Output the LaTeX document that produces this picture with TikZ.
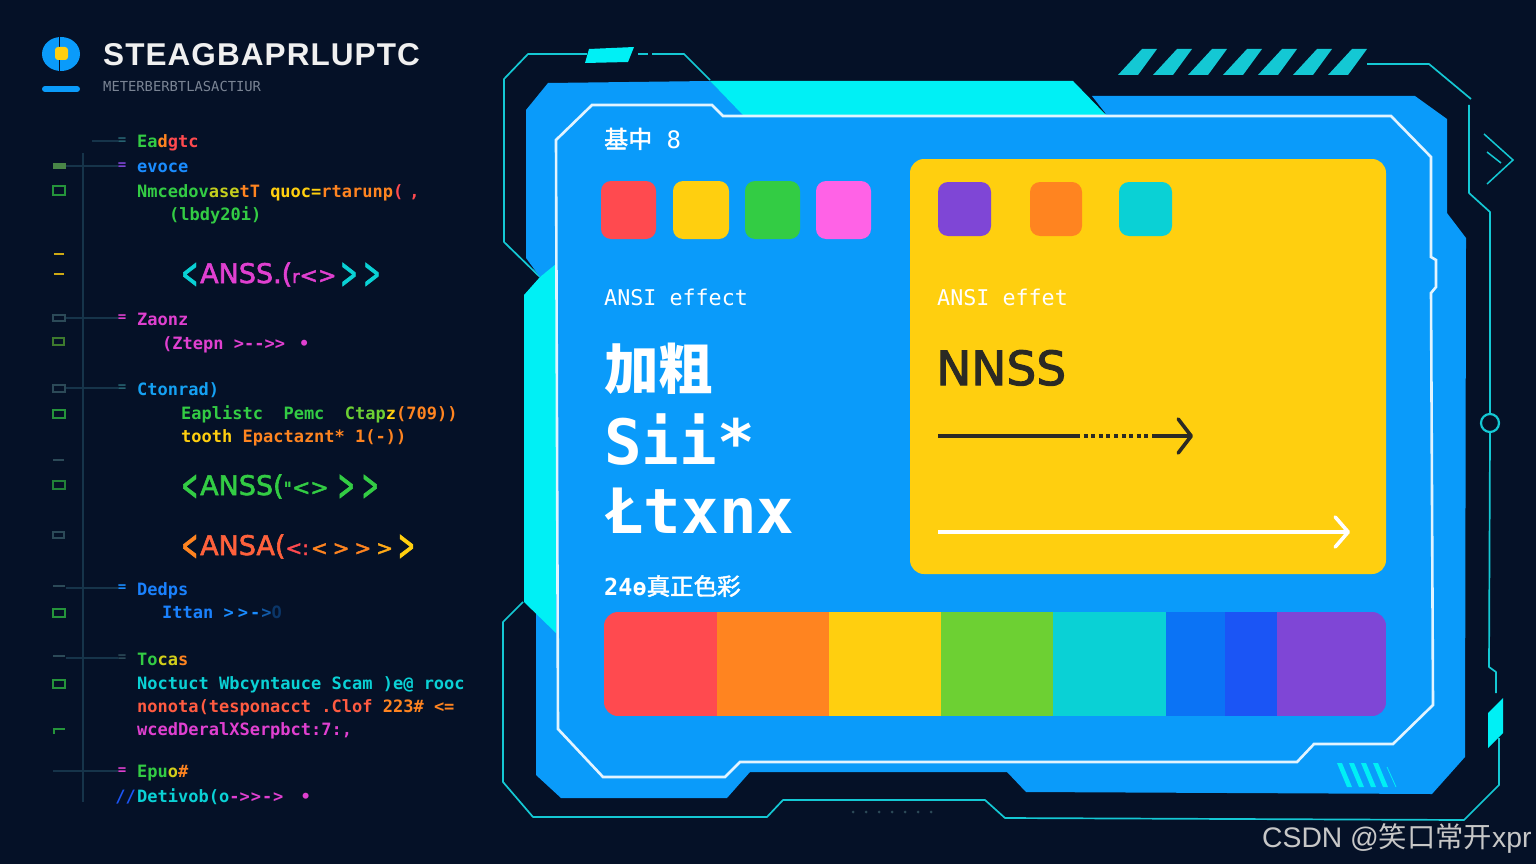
\documentclass[tikz,border=0pt]{standalone}
\usepackage{fontspec}
\usepackage{graphicx}
\usepackage{xcolor}
\usetikzlibrary{arrows.meta}
\setmainfont{DejaVu Sans}
\newfontfamily\ansimono{DejaVu Sans Mono}
\newfontfamily\ansimid{DejaVu Sans}[FakeBold=2.2]
\newfontfamily\cjkfont{Noto Sans CJK SC}
\newfontfamily\cjkmid{Noto Sans CJK SC}[FakeBold=2]
\newfontfamily\wmfont{Liberation Sans}
\newfontfamily\titlefont{Liberation Sans Bold}[LetterSpace=3.4]
\newcommand{\fsz}[1]{\fontsize{#1}{#1}\selectfont}
\newcommand{\tallang}[1]{\raisebox{-5pt}{\scalebox{.75}[1.6]{#1}}}
\definecolor{ansibg}{HTML}{051127}
\definecolor{ansiblue}{HTML}{0A9BFA}
\definecolor{ansicyan}{HTML}{00F0F5}
\definecolor{ansiteal}{HTML}{14C8D4}
\definecolor{ansiframe}{HTML}{E2F4FF}
\definecolor{ansired}{HTML}{FF4A4F}
\definecolor{ansiorange}{HTML}{FF8420}
\definecolor{ansiyellow}{HTML}{FFCF0F}
\definecolor{ansigreen}{HTML}{33CC44}
\definecolor{ansilime}{HTML}{6DD033}
\definecolor{ansipink}{HTML}{FF62E6}
\definecolor{ansimagenta}{HTML}{E040D0}
\definecolor{ansipurple}{HTML}{7F46D6}
\definecolor{ansiturq}{HTML}{0AD1D5}
\definecolor{ansiazure}{HTML}{0B73F5}
\definecolor{ansicobalt}{HTML}{1B55F5}
\definecolor{ansicode}{HTML}{1A8CFF}
\definecolor{ansiink}{HTML}{2B2A24}
\definecolor{ansigrey}{HTML}{7A8494}
\definecolor{ansirule}{HTML}{16344A}
\definecolor{ansimark}{HTML}{2C4A58}
\tikzset{
    codetext/.style={anchor=base west, inner sep=0pt, font=\ansimono\bfseries\fsz{17}},
    bigcode/.style={anchor=base west, inner sep=0pt, font=\ansimid\fsz{27}},
    paneltext/.style={anchor=base west, inner sep=0pt, text=white},
    eqmark/.style={inner sep=0pt, font=\ansimono\bfseries\fsz{14}},
    tick/.style={draw=ansirule, line width=1.2pt},
    guttermark/.style={line width=1.1pt},
    swatch/.style={rounded corners=10pt},
    hud/.style={draw=ansiteal, line width=1.7pt, line join=bevel},
}
\begin{document}
\begin{tikzpicture}[x=1pt,y=-1pt]
    \useasboundingbox (0,0) rectangle (1536,864);
    \fill[ansibg] (0,0) rectangle (1536,864);

    \fill[ansiblue] (42,54) arc[start angle=180, end angle=-180, x radius=19, y radius=17];
    \draw[ansibg, line width=1pt] (59,37) -- (59,71);
    \fill[ansiyellow, rounded corners=3pt] (55,47) rectangle (68,60);
    \draw[ansiblue, line width=6pt, line cap=round] (45,89) -- (77,89);
    \node[anchor=base west, inner sep=0pt, text=white!94!black, font=\titlefont\fsz{31.5}] (apptitle) at (103,66) {STEAGBAPRLUPTC};
    \node[anchor=base west, inner sep=0pt, text=ansigrey, font=\ansimono\fsz{13.8}] (appsub) at (103,92) {METERBERBTLASACTIUR};

    \draw[ansirule, line width=1.4pt] (83,153) -- (83,802);

    \coordinate (taila) at (92,141);
    \coordinate (tailb) at (66,166);
    \coordinate (tailc) at (66,318);
    \coordinate (taild) at (66,388);
    \coordinate (taile) at (66,588);
    \coordinate (tailf) at (66,658);
    \coordinate (tailg) at (53,771);
    \node[eqmark, text=ansimark!80!ansiteal] (eqa) at (122,141) {=};
    \node[eqmark, text=ansipurple] (eqb) at (122,166) {=};
    \node[eqmark, text=ansimagenta] (eqc) at (122,318) {=};
    \node[eqmark, text=ansimark!80!ansiteal] (eqd) at (122,388) {=};
    \node[eqmark, text=ansicode] (eqe) at (122,588) {=};
    \node[eqmark, text=ansimark] (eqf) at (122,658) {=};
    \node[eqmark, text=ansimagenta] (eqg) at (122,771) {=};
    \draw[tick] (taila) -- (eqa);
    \draw[tick] (tailb) -- (eqb);
    \draw[tick] (tailc) -- (eqc);
    \draw[tick] (taild) -- (eqd);
    \draw[tick] (taile) -- (eqe);
    \draw[tick] (tailf) -- (eqf);
    \draw[tick] (tailg) -- (eqg);

    \fill[ansilime!45!ansimark] (53,163) rectangle (66,169);
    \draw[guttermark, ansigreen!70!ansibg] (53,186) rectangle (65,195);
    \draw[guttermark, ansiyellow!80!ansibg] (54,254) -- (64,254);
    \draw[guttermark, ansiyellow!80!ansibg] (54,274) -- (64,274);
    \draw[guttermark, ansimark] (53,315) rectangle (65,321);
    \draw[guttermark, ansilime!55!ansibg] (53,338) rectangle (64,345);
    \draw[guttermark, ansimark] (53,385) rectangle (65,392);
    \draw[guttermark, ansigreen!70!ansibg] (53,410) rectangle (65,418);
    \draw[guttermark, ansimark] (53,460) -- (64,460);
    \draw[guttermark, ansigreen!60!ansibg] (53,481) rectangle (65,489);
    \draw[guttermark, ansimark] (53,532) rectangle (64,538);
    \draw[guttermark, ansimark] (53,586) -- (65,586);
    \draw[guttermark, ansigreen!70!ansibg] (53,609) rectangle (65,617);
    \draw[guttermark, ansimark] (53,656) -- (65,656);
    \draw[guttermark, ansigreen!70!ansibg] (53,680) rectangle (65,688);
    \draw[guttermark, ansigreen!70!ansibg] (54,734) -- (54,729) -- (65,729);

    \node[codetext] (linea) at (137,147) {\textcolor{ansigreen}{Ea}\textcolor{ansiorange}{d}\textcolor{ansired}{gtc}};
    \node[codetext] (lineb) at (137,172) {\textcolor{ansicode}{evoce}};
    \node[codetext] (linec) at (137,197) {\textcolor{ansigreen}{Nmcedov}\textcolor{ansiyellow!60!ansilime}{ase}\textcolor{ansiorange}{tT} \textcolor{ansiyellow}{quoc=}\textcolor{ansiorange}{rtarunp}\textcolor{ansired}{(\kern6pt,}};
    \node[codetext] (lined) at (169,220) {\textcolor{ansigreen}{(lbdy20i)}};
    \node[bigcode] (linee) at (181,283) {\textcolor{ansiturq}{\tallang{<}}\kern2pt\textcolor{ansimagenta}{ANSS.(}\textcolor{ansimagenta}{\fsz{18}r}\textcolor{ansimagenta}{\fsz{22}<>}\kern4pt\textcolor{ansiturq}{\tallang{>}\kern6pt\tallang{>}}};
    \node[codetext, text=ansimagenta] (linef) at (137,325) {Zaonz};
    \node[codetext, text=ansimagenta] (lineg) at (162,349) {(Ztepn >-->>\ \kern4pt•};
    \node[codetext, text=ansicode!70!ansiturq] (lineh) at (137,395) {Ctonrad)};
    \node[codetext] (linei) at (181,419) {\textcolor{ansigreen}{Eaplistc\ \ Pemc}\ \ \textcolor{ansilime}{Ctap}\textcolor{ansiyellow}{z}\textcolor{ansiorange}{(709))}};
    \node[codetext] (linej) at (181,442) {\textcolor{ansiyellow}{tooth} \textcolor{ansiorange}{Epactaznt*\ 1(-))}};
    \node[bigcode, text=ansigreen] (linek) at (181,495) {\tallang{<}\kern2ptANSS(\fsz{18}"\fsz{22}<>\kern9pt\fsz{27}\tallang{>}\kern7pt\tallang{>}};
    \node[bigcode] (linel) at (181,555) {\textcolor{ansiorange}{\tallang{<}}\kern2pt\textcolor{ansired!60!ansiorange}{ANSA(}\textcolor{ansired}{\fsz{20}<:}\textcolor{ansiorange}{\fsz{20}\kern2pt<\kern5pt>\kern5pt>}\textcolor{ansiorange!50!ansiyellow}{\fsz{20}\kern5pt>}\kern5pt\textcolor{ansiyellow}{\fsz{27}\tallang{>}}};
    \node[codetext, text=ansicode!80!ansicobalt] (linem) at (137,595) {Dedps};
    \node[codetext] (linen) at (162,618) {\textcolor{ansicode!80!ansicobalt}{Ittan} \textcolor{ansicode}{>\kern4pt>\kern2pt-\kern1pt}\textcolor{ansicode!60!ansibg}{>}\textcolor{ansicode!30!ansibg}{O}};
    \node[codetext] (lineo) at (137,665) {\textcolor{ansigreen}{To}\textcolor{ansiyellow!70!ansilime}{ca}\textcolor{ansiorange}{s}};
    \node[codetext, text=ansiturq] (linep) at (137,689) {Noctuct Wbcyntauce Scam )e@ rooc};
    \node[codetext] (lineq) at (137,712) {\textcolor{ansired!70!ansiorange}{nonota(tesponacct .Clof} \textcolor{ansiorange}{223\#} \textcolor{ansiorange}{<=}};
    \node[codetext, text=ansimagenta] (liner) at (137,735) {wcedDeralXSerpbct:7:,};
    \node[codetext] (lines) at (137,777) {\textcolor{ansigreen}{Epu}\textcolor{ansiyellow!70!ansilime}{o}\textcolor{ansiorange}{\#}};
    \node[codetext, text=ansicobalt, anchor=base east] (linetag) at (136,802) {//};
    \node[codetext] (linet) at (137,802) {\textcolor{ansiturq}{Detivob(o}\textcolor{ansimagenta}{->\kern1pt>\kern1pt-\kern1pt>}\ \kern7pt\textcolor{ansimagenta}{•}};

    \draw[hud] (710,80) -- (684,54) -- (652,54);
    \draw[hud] (638,54) -- (648,54);
    \draw[hud] (587,54) -- (528,54) -- (504,79) -- (504,242) -- (540,277);
    \fill[ansicyan] (585,63) -- (589,49) -- (634,47) -- (628,62) -- cycle;
    \draw[hud] (1367,64) -- (1429,64) -- (1471,99);
    \draw[hud] (1469,105) -- (1469,193) -- (1490,212) -- (1490,414);
    \draw[hud] (1490,432) -- (1489,667) -- (1496,672) -- (1496,693);
    \draw[hud] (1499,738) -- (1499,785) -- (1464,820) -- (1005,818) -- (985,800) -- (783,800) -- (767,817) -- (533,817) -- (503,782) -- (503,622) -- (523,602);
    \fill[ansicyan] (1488,713) -- (1503,698) -- (1503,733) -- (1488,748) -- cycle;
    \node[circle, draw=ansiteal, line width=2.2pt, minimum size=18pt, inner sep=0pt] (ringa) at (1490,423) {};
    \draw[ansiteal, line width=1.5pt] (1484,134) -- (1513,160) -- (1487,184);
    \draw[ansiteal, line width=1.5pt] (1487,152) -- (1501,163);
    \fill[ansiteal] (1118,75) -- (1138,75) -- (1157,49) -- (1142,49) -- cycle;
    \fill[ansiteal] (1153,75) -- (1173,75) -- (1192,49) -- (1177,49) -- cycle;
    \fill[ansiteal] (1188,75) -- (1208,75) -- (1227,49) -- (1212,49) -- cycle;
    \fill[ansiteal] (1223,75) -- (1243,75) -- (1262,49) -- (1247,49) -- cycle;
    \fill[ansiteal] (1258,75) -- (1278,75) -- (1297,49) -- (1282,49) -- cycle;
    \fill[ansiteal] (1293,75) -- (1313,75) -- (1332,49) -- (1317,49) -- cycle;
    \fill[ansiteal] (1328,75) -- (1348,75) -- (1367,49) -- (1352,49) -- cycle;

    \fill[ansiblue] (548,83) -- (710,81) -- (743,114) -- (1106,114) -- (1092,96) -- (1415,96) -- (1447,119) -- (1447,213) -- (1466,238) -- (1465,757) -- (1432,794) -- (1026,792) -- (1007,772) -- (750,772) -- (727,798) -- (561,798) -- (536,775) -- (536,600) -- (550,600) -- (550,270) -- (540,277) -- (526,258) -- (526,110) -- cycle;
    \fill[ansicyan] (710,81) -- (1073,81) -- (1106,115) -- (743,115) -- cycle;
    \fill[ansicyan] (556,264) -- (540,277) -- (524,295) -- (524,602) -- (556,633) -- cycle;
    \draw[ansiframe, line width=2.6pt, line join=miter] (556,140) -- (592,105) -- (712,105) -- (723,116) -- (1391,116) -- (1431,157) -- (1431,257) -- (1436,260) -- (1436,287) -- (1431,293) -- (1433,705) -- (1393,744) -- (1314,744) -- (1297,762) -- (740,762) -- (725,777) -- (603,777) -- (558,729) -- cycle;
    \fill[ansicyan] (1337,763) -- (1342,763) -- (1352,787) -- (1347,787) -- cycle;
    \fill[ansicyan] (1349,763) -- (1354,763) -- (1364,787) -- (1359,787) -- cycle;
    \fill[ansicyan] (1361,763) -- (1366,763) -- (1376,787) -- (1371,787) -- cycle;
    \fill[ansicyan] (1373,763) -- (1378,763) -- (1388,787) -- (1383,787) -- cycle;
    \draw[ansicyan, line width=.8pt] (1387,767) -- (1396,787);

    \fill[ansimark] (853,812) circle (1.5pt) (866,812) circle (1.5pt) (879,812) circle (1.5pt) (892,812) circle (1.5pt) (905,812) circle (1.5pt) (918,812) circle (1.5pt) (931,812) circle (1.5pt);

    \fill[ansiyellow, rounded corners=14pt] (910,159) rectangle (1386,574);
    \fill[ansired, swatch] (601,181) rectangle (656,239);
    \fill[ansiyellow, swatch] (673,181) rectangle (729,239);
    \fill[ansigreen, swatch] (745,181) rectangle (800,239);
    \fill[ansipink, swatch] (816,181) rectangle (871,239);
    \fill[ansipurple, swatch] (938,182) rectangle (991,236);
    \fill[ansiorange, swatch] (1030,182) rectangle (1082,236);
    \fill[ansiturq, swatch] (1119,182) rectangle (1172,236);

    \node[paneltext, font=\cjkmid\fsz{24}] (basetitle) at (604,148) {基中{\ansimono\ 8}};
    \node[paneltext, font=\ansimono\fsz{21.7}] (effecta) at (604,305) {ANSI effect};
    \node[paneltext, font=\ansimono\fsz{21.7}] (effectb) at (937,305) {ANSI effet};
    \node[paneltext, font=\cjkfont\bfseries\fsz{54.5}] (boldtitle) at (604,389) {加粗};
    \node[paneltext, font=\ansimono\bfseries\fsz{62.5}] (samplea) at (604,464) {Sii*};
    \node[paneltext, font=\ansimono\bfseries\fsz{62.5}] (sampleb) at (606,533) {Łtxnx};
    \node[paneltext, font=\ansimono\bfseries\fsz{23.5}] (truecolor) at (604,595) {24ө{\mdseries\cjkmid 真正色彩}};
    \node[paneltext, text=ansiink, font=\ansimid\fsz{47}] (nnss) at (936,385) {NNSS};

    \coordinate (darkstart) at (938,436);
    \coordinate (darkmida) at (1076,436);
    \coordinate (darkmidb) at (1153,436);
    \coordinate (darkend) at (1193,436);
    \coordinate (lightstart) at (938,532);
    \coordinate (lightend) at (1350,532);
    \draw[ansiink, line width=3.6pt] (darkstart) -- (darkmida);
    \draw[ansiink, line width=3.6pt, dash pattern=on 4pt off 3.6pt] (darkmida) -- (darkmidb);
    \draw[ansiink, line width=3.6pt, -{Straight Barb[length=13pt,width=34pt,round]}] (darkmidb) -- (darkend);
    \draw[white, line width=3.6pt, -{Straight Barb[length=13pt,width=30pt,round]}] (lightstart) -- (lightend);

    \begin{scope}
        \clip[rounded corners=14pt] (604,612) rectangle (1386,716);
        \fill[ansired] (604,612) rectangle (717,716);
        \fill[ansiorange] (717,612) rectangle (829,716);
        \fill[ansiyellow] (829,612) rectangle (941,716);
        \fill[ansilime] (941,612) rectangle (1053,716);
        \fill[ansiturq] (1053,612) rectangle (1166,716);
        \fill[ansiazure] (1166,612) rectangle (1225,716);
        \fill[ansicobalt] (1225,612) rectangle (1277,716);
        \fill[ansipurple] (1277,612) rectangle (1386,716);
    \end{scope}

    \node[anchor=base west, inner sep=0pt, text=white!78!black, font=\wmfont\fsz{28.3}] (watermark) at (1262,847) {CSDN @{\cjkfont 笑口常开}xpr};
\end{tikzpicture}
\end{document}
